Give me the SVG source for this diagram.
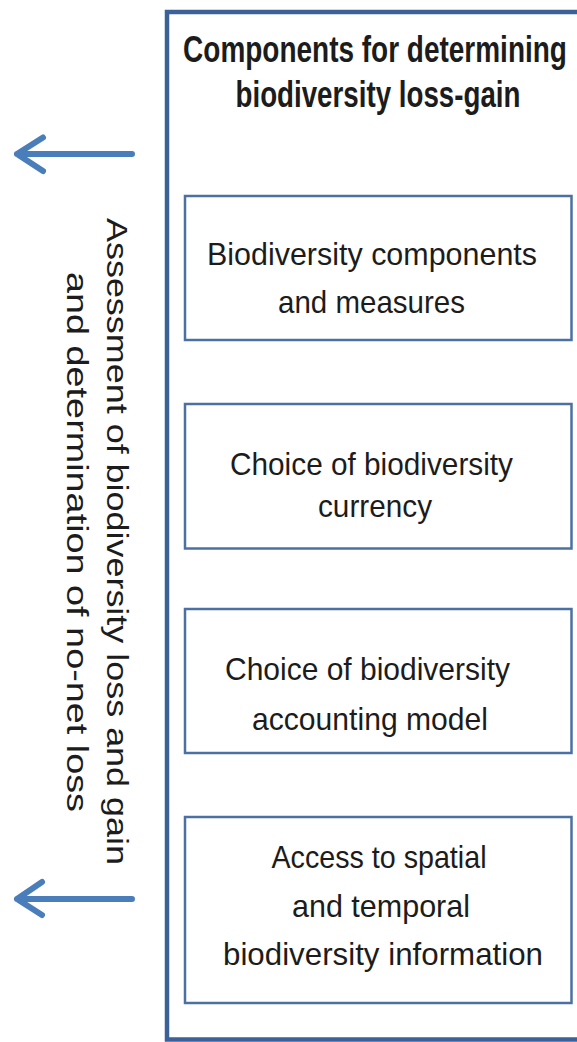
<svg xmlns="http://www.w3.org/2000/svg" width="577" height="1042" viewBox="0 0 577 1042">
  <style>
    .frame { fill: none; stroke: #3b6198; stroke-width: 4.5; }
    .box rect { fill: #ffffff; stroke: #4d70a3; stroke-width: 2.5; }
    .lbl { font-family: "Liberation Sans", Arial, sans-serif; font-size: 32px; fill: #1c1c1c; text-anchor: middle; }
    .title { font-family: "Liberation Sans", Arial, sans-serif; font-size: 37px; font-weight: bold; fill: #1c1c1c; text-anchor: middle; }
    .side { font-family: "Liberation Sans", Arial, sans-serif; font-size: 29px; fill: #1c1c1c; text-anchor: middle; }
    .arrow { fill: none; stroke: #4a7ebb; stroke-width: 6; stroke-linecap: round; stroke-linejoin: round; }
  </style>

  <rect width="577" height="1042" fill="#ffffff"/>

  <!-- outer frame (its right side runs past the page edge) -->
  <g id="frame">
    <path class="frame" d="M577,12 H167 V1039.5 H577"/>
  </g>

  <!-- heading, set in a condensed bold face -->
  <g id="heading">
    <text class="title" transform="translate(375,62) scale(0.757,1)" x="0" y="0" textLength="507" lengthAdjust="spacingAndGlyphs">Components for determining</text>
    <text class="title" transform="translate(378,107) scale(0.75,1)" x="0" y="0" textLength="380" lengthAdjust="spacingAndGlyphs">biodiversity loss-gain</text>
  </g>

  <g id="box-components" class="box">
    <rect x="185" y="196" width="386.5" height="144"/>
    <text class="lbl" x="372" y="265" textLength="330" lengthAdjust="spacingAndGlyphs">Biodiversity components</text>
    <text class="lbl" x="371.5" y="313" textLength="187" lengthAdjust="spacingAndGlyphs">and measures</text>
  </g>

  <g id="box-currency" class="box">
    <rect x="185" y="404" width="386.5" height="144.5"/>
    <text class="lbl" x="371.5" y="475" textLength="283" lengthAdjust="spacingAndGlyphs">Choice of biodiversity</text>
    <text class="lbl" x="375" y="517" textLength="114" lengthAdjust="spacingAndGlyphs">currency</text>
  </g>

  <g id="box-accounting" class="box">
    <rect x="185" y="609" width="386.5" height="144"/>
    <text class="lbl" x="367.5" y="680" textLength="285" lengthAdjust="spacingAndGlyphs">Choice of biodiversity</text>
    <text class="lbl" x="370" y="730" textLength="236" lengthAdjust="spacingAndGlyphs">accounting model</text>
  </g>

  <g id="box-information" class="box">
    <rect x="185" y="817" width="386.5" height="186"/>
    <text class="lbl" x="379" y="868" textLength="215" lengthAdjust="spacingAndGlyphs">Access to spatial</text>
    <text class="lbl" x="381" y="917" textLength="178" lengthAdjust="spacingAndGlyphs">and temporal</text>
    <text class="lbl" x="383" y="965" textLength="320" lengthAdjust="spacingAndGlyphs">biodiversity information</text>
  </g>

  <!-- vertical side caption -->
  <g id="assessment">
    <text class="side" transform="translate(107,541.5) rotate(90)" x="0" y="0" textLength="647" lengthAdjust="spacingAndGlyphs">Assessment of biodiversity loss and gain</text>
    <text class="side" transform="translate(107,541.5) rotate(90)" x="0.5" y="40" textLength="540" lengthAdjust="spacingAndGlyphs">and determination of no-net loss</text>
  </g>

  <!-- outgoing arrows -->
  <g id="connectors">
    <path class="arrow" d="M132,154 H17 M43,137.5 L17,154 L43,171"/>
    <path class="arrow" d="M132,899 H17 M42,882 L17,899 L42,915"/>
  </g>
</svg>
